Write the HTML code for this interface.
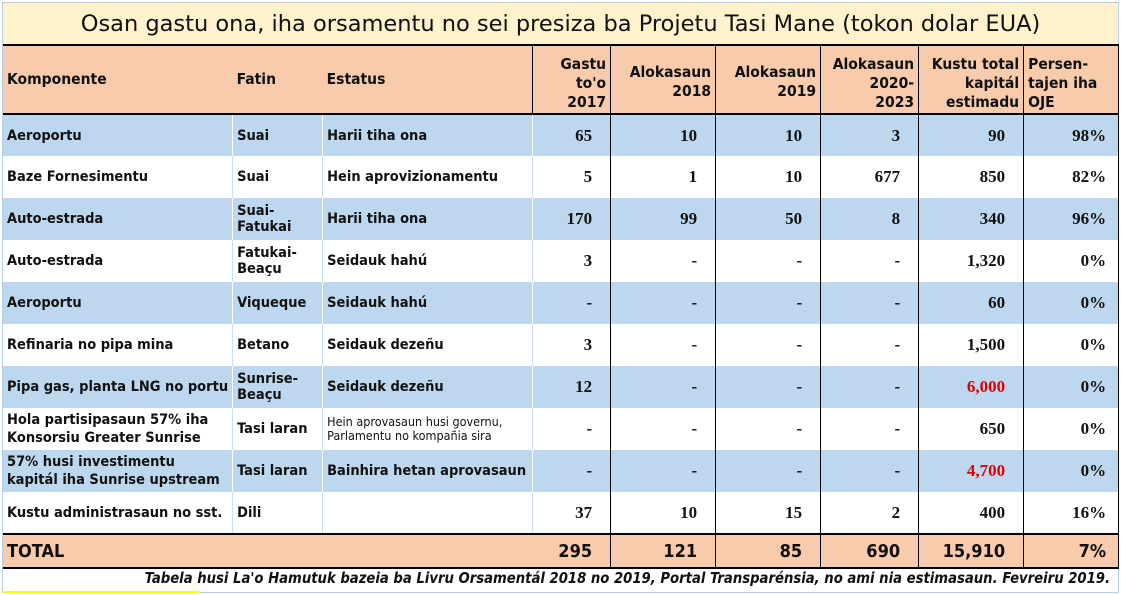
<!DOCTYPE html>
<html><head><meta charset="utf-8"><style>
*{margin:0;padding:0;box-sizing:border-box}
body{width:1121px;height:595px;background:#fff;position:relative;overflow:hidden;font-family:"DejaVu Sans Condensed","Liberation Sans",sans-serif;font-weight:bold;color:#111}
#frame{position:absolute;left:2px;top:2px;width:1117px;height:591px;border:1px solid #b4cfe6}
#title{position:absolute;left:3px;top:3px;width:1115px;height:42px;background:#fff2cc;text-align:center;line-height:42px;font-family:"DejaVu Sans",sans-serif;font-weight:normal;font-size:22.5px}
table{position:absolute;left:3px;top:44px;border-collapse:collapse;table-layout:fixed}
td{font-size:14.5px;padding:0 4px;vertical-align:middle;overflow:hidden;white-space:nowrap}
.h td{background:#f8cbad;height:69px;border-top:2px solid #000;border-bottom:2px solid #000;border-right:1px solid #000;font-size:15.5px;line-height:19px}
.h td.l{border-right:none}
.r td{height:42px;border-right:1px solid #000}
.r td.t{border-right:1px solid #c9def0}
.b td{background:#bdd7ee}
.b td.t{border-right:1px solid #fff}
.n{text-align:right;padding-right:18px;font-family:"Liberation Serif",serif;font-size:17px}
.red{color:#e00000}
.tot td{background:#f8cbad;height:34px;border-top:2px solid #000;border-bottom:2px solid #000;border-right:1px solid #000;font-size:18px;text-align:right;padding-right:18px}
.tot td.t{border-right:none;text-align:left;padding-left:4px}
.hr{text-align:right;vertical-align:bottom !important;padding-bottom:1px !important}
.small{font-weight:normal;font-size:12.5px;line-height:14px}
#foot{position:absolute;left:3px;top:568px;width:1113px;height:24px;text-align:right;font-style:italic;font-size:14.7px;line-height:22px;padding-right:6px}
#yl{position:absolute;left:3px;top:591px;width:197px;height:2px;background:#ffff00}
</style></head><body>
<div id="frame"></div>
<div id="title">Osan gastu ona, iha orsamentu no sei presiza ba Projetu Tasi Mane (tokon dolar EUA)</div>
<table>
<colgroup><col style="width:229px"><col style="width:90px"><col style="width:210px"><col style="width:78px"><col style="width:105px"><col style="width:105px"><col style="width:98px"><col style="width:105px"><col style="width:95px"></colgroup>
<tr class="h"><td class="l">Komponente</td><td class="l">Fatin</td><td>Estatus</td><td class="hr">Gastu<br>to'o<br>2017</td><td class="hr" style="padding-bottom:12px!important">Alokasaun<br>2018</td><td class="hr" style="padding-bottom:12px!important">Alokasaun<br>2019</td><td class="hr">Alokasaun<br>2020-<br>2023</td><td class="hr">Kustu total<br>kapitál<br>estimadu</td><td style="vertical-align:bottom;padding-bottom:1px">Persen-<br>tajen iha<br>OJE</td></tr>
<tr class="r b"><td class="t">Aeroportu</td><td class="t">Suai</td><td class="t">Harii tiha ona</td><td class="n">65</td><td class="n">10</td><td class="n">10</td><td class="n">3</td><td class="n">90</td><td class="n" style="padding-right:12px">98%</td></tr>
<tr class="r"><td class="t">Baze Fornesimentu</td><td class="t">Suai</td><td class="t">Hein aprovizionamentu</td><td class="n">5</td><td class="n">1</td><td class="n">10</td><td class="n">677</td><td class="n">850</td><td class="n" style="padding-right:12px">82%</td></tr>
<tr class="r b"><td class="t">Auto-estrada</td><td class="t" style="line-height:16px">Suai-<br>Fatukai</td><td class="t">Harii tiha ona</td><td class="n">170</td><td class="n">99</td><td class="n">50</td><td class="n">8</td><td class="n">340</td><td class="n" style="padding-right:12px">96%</td></tr>
<tr class="r"><td class="t">Auto-estrada</td><td class="t" style="line-height:16px">Fatukai-<br>Beaçu</td><td class="t">Seidauk hahú</td><td class="n">3</td><td class="n">-</td><td class="n">-</td><td class="n">-</td><td class="n">1,320</td><td class="n" style="padding-right:12px">0%</td></tr>
<tr class="r b"><td class="t">Aeroportu</td><td class="t">Viqueque</td><td class="t">Seidauk hahú</td><td class="n">-</td><td class="n">-</td><td class="n">-</td><td class="n">-</td><td class="n">60</td><td class="n" style="padding-right:12px">0%</td></tr>
<tr class="r"><td class="t">Refinaria no pipa mina</td><td class="t">Betano</td><td class="t">Seidauk dezeñu</td><td class="n">3</td><td class="n">-</td><td class="n">-</td><td class="n">-</td><td class="n">1,500</td><td class="n" style="padding-right:12px">0%</td></tr>
<tr class="r b"><td class="t">Pipa gas, planta LNG no portu</td><td class="t" style="line-height:16px">Sunrise-<br>Beaçu</td><td class="t">Seidauk dezeñu</td><td class="n">12</td><td class="n">-</td><td class="n">-</td><td class="n">-</td><td class="n red">6,000</td><td class="n" style="padding-right:12px">0%</td></tr>
<tr class="r"><td class="t" style="line-height:18px">Hola partisipasaun 57% iha<br>Konsorsiu Greater Sunrise</td><td class="t">Tasi laran</td><td class="t small">Hein aprovasaun husi governu,<br>Parlamentu no kompañia sira</td><td class="n">-</td><td class="n">-</td><td class="n">-</td><td class="n">-</td><td class="n">650</td><td class="n" style="padding-right:12px">0%</td></tr>
<tr class="r b"><td class="t" style="line-height:18px">57% husi investimentu<br>kapitál iha Sunrise upstream</td><td class="t">Tasi laran</td><td class="t">Bainhira hetan aprovasaun</td><td class="n">-</td><td class="n">-</td><td class="n">-</td><td class="n">-</td><td class="n red">4,700</td><td class="n" style="padding-right:12px">0%</td></tr>
<tr class="r"><td class="t">Kustu administrasaun no sst.</td><td class="t">Dili</td><td class="t"></td><td class="n">37</td><td class="n">10</td><td class="n">15</td><td class="n">2</td><td class="n">400</td><td class="n" style="padding-right:12px">16%</td></tr>
<tr class="tot"><td class="t">TOTAL</td><td class="t"></td><td class="t"></td><td>295</td><td>121</td><td>85</td><td>690</td><td>15,910</td><td style="padding-right:12px">7%</td></tr>
</table>
<div id="foot">Tabela husi La'o Hamutuk bazeia ba Livru Orsamentál 2018 no 2019, Portal Transparénsia, no ami nia estimasaun. Fevreiru 2019.</div>
<div id="yl"></div>
</body></html>
